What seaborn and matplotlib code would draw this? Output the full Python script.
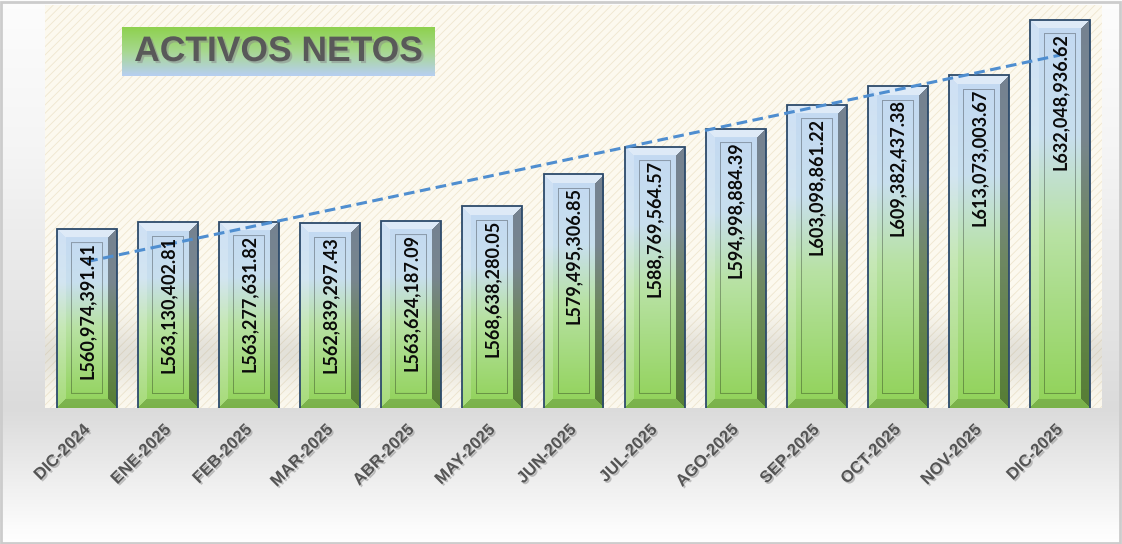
import numpy as np
import pandas as pd
import seaborn as sns
import matplotlib
matplotlib.use("Agg")
import matplotlib.pyplot as plt
from matplotlib import patheffects as pe
from matplotlib.colors import to_rgb
from matplotlib.patches import Rectangle

meses = ["DIC-2024", "ENE-2025", "FEB-2025", "MAR-2025", "ABR-2025", "MAY-2025",
         "JUN-2025", "JUL-2025", "AGO-2025", "SEP-2025", "OCT-2025", "NOV-2025",
         "DIC-2025"]
activos = [560974391.41, 563130402.81, 563277631.82, 562839297.43, 563624187.09,
           568638280.05, 579495306.85, 588769564.57, 594998884.39, 603098861.22,
           609382437.38, 613073003.67, 632048936.62]
titulo = "ACTIVOS NETOS"

sns.set_theme(style="white")
plt.rcParams["font.family"] = ["Liberation Sans", "DejaVu Sans"]
plt.rcParams["hatch.linewidth"] = 0.6

W, H = 1122, 544
fig = plt.figure(figsize=(W / 100, H / 100), dpi=100)

# figure background gradient
bg = fig.add_axes([0, 0, 1, 1], zorder=-10)
yy = np.arange(H)
g = np.interp(yy, [0, 150, 408, 420, 530, H], [0.99, 0.96, 0.86, 0.87, 0.99, 1.0])
bg.imshow(np.repeat(g[:, None, None], 3, axis=2), extent=(0, 1, 0, 1), aspect="auto")
bg.axis("off")

ymin, ymax = 500e6, 637e6
left, right, top, bottom = 45, 1102, 5, 408
ax = fig.add_axes([left / W, 1 - bottom / H, (right - left) / W, (bottom - top) / H])
ax.set_facecolor("#fcf9ef")

df = pd.DataFrame({"mes": meses, "activos": activos})
sns.barplot(data=df, x="mes", y="activos", ax=ax, width=0.74, color="#92d050",
            edgecolor="#2c4a6b", linewidth=1.3, zorder=3)
bars = list(ax.containers[0])

ax.add_patch(Rectangle((0, 0), 1, 1, transform=ax.transAxes, facecolor="#fcf9ef",
                       edgecolor="#efe6cf", hatch="////", lw=0, zorder=0))

# soft shadow band behind the bars
band = np.linspace(0, 1, 100)[:, None]
alpha = 0.22 * np.exp(-((band - 0.55) / 0.25) ** 2)
shade = np.zeros((100, 1, 4))
shade[..., :3] = 0.55
shade[..., 3] = alpha
ax.imshow(shade, extent=(-0.52, 12.52, ymin, ymin + 0.3 * (ymax - ymin)),
          aspect="auto", zorder=1)

ph = bottom - top
stops_t = [0.0, 0.3, 0.55, 1.0]
stops_c = np.array([to_rgb(c) for c in ["#c3d9f2", "#c8dfee", "#b8e2a4", "#90d257"]])


def bar_image(hpx, wpx=60, b=9, inner=14):
    hpx = max(int(round(hpx)), 2 * inner + 2)
    t = np.linspace(0, 1, hpx)
    base = np.stack([np.interp(t, stops_t, stops_c[:, k]) for k in range(3)], axis=1)
    img = np.repeat(base[:, None, :], wpx, axis=1)
    r, c = np.mgrid[0:hpx, 0:wpx]
    d = np.stack([r, hpx - 1 - r, c, wpx - 1 - c])
    dmin = d.min(axis=0)
    face = d.argmin(axis=0)
    bev = dmin < b
    white = np.ones(3)
    m = bev & (face == 0)
    img[m] = img[m] * 0.55 + white * 0.45
    m = bev & (face == 2)
    img[m] = img[m] * 0.8 + white * 0.2
    m = bev & (face == 3)
    img[m] = img[m] * 0.6
    m = bev & (face == 1)
    img[m] = img[m] * 0.85
    line = (dmin == inner)
    img[line] = img[line] * 0.7
    return img


xs = np.arange(len(activos))
for i, (patch, v) in enumerate(zip(bars, activos)):
    x0 = patch.get_x()
    w = patch.get_width()
    hpx = (v - ymin) / (ymax - ymin) * ph
    im = ax.imshow(bar_image(hpx), extent=(x0, x0 + w, ymin, v), aspect="auto",
                   zorder=3.5, interpolation="bilinear")
    im.set_clip_path(patch)
    patch.set_facecolor("none")
    patch.set_zorder(4)
    ax.annotate(f"L{v:,.2f}", xy=(i, v), xytext=(0, -9.5), textcoords="offset points",
                rotation=90, ha="center", va="top", fontsize=13, fontweight="bold",
                family="Lato", color="#0a0a0a", zorder=6)

# linear trend
coef = np.polyfit(xs, activos, 1)
ax.plot([0, 12], np.polyval(coef, [0, 12]), ls=(0, (3.5, 1.8)), color="#4f8ed0",
        lw=2.2, zorder=5)

ax.set_xlim(-0.52, 12.52)
ax.set_ylim(ymin, ymax)
ax.set_yticks([])
ax.set_xlabel("")
ax.set_ylabel("")
ax.set_xticks(xs)
ax.set_xticklabels(meses, rotation=45, ha="right", va="center", rotation_mode="anchor",
                   fontsize=12, fontweight="bold", color="#555555")
ax.tick_params(axis="x", length=0, pad=14)
for lab in ax.get_xticklabels():
    lab.set_path_effects([pe.SimplePatchShadow(offset=(1.2, -1.2), shadow_rgbFace="#9a9a9a",
                                               alpha=0.6), pe.Normal()])
for s in ax.spines.values():
    s.set_visible(False)

# title box
tax = fig.add_axes([122 / W, 1 - 76 / H, 313 / W, 49 / H])
tt = np.linspace(0, 1, 50)
tc = np.array([to_rgb(c) for c in ["#8fd14f", "#a7d88f", "#b7cff0"]])
timg = np.stack([np.interp(tt, [0, 0.5, 1], tc[:, k]) for k in range(3)], axis=1)
tax.imshow(np.repeat(timg[:, None, :], 2, axis=1), extent=(0, 1, 0, 1), aspect="auto")
tax.text(0.5, 0.5, titulo, ha="center", va="center", fontsize=25.5, fontweight="bold",
         color="#595959", transform=tax.transAxes,
         path_effects=[pe.SimplePatchShadow(offset=(1.5, -1.5), shadow_rgbFace="#888888",
                                            alpha=0.5), pe.Normal()])
tax.axis("off")

fig.patches.append(Rectangle((0.001, 0.002), 0.997, 0.995, transform=fig.transFigure,
                             fill=False, edgecolor="#cccccc", lw=2))

fig.savefig("out.png", dpi=100)
